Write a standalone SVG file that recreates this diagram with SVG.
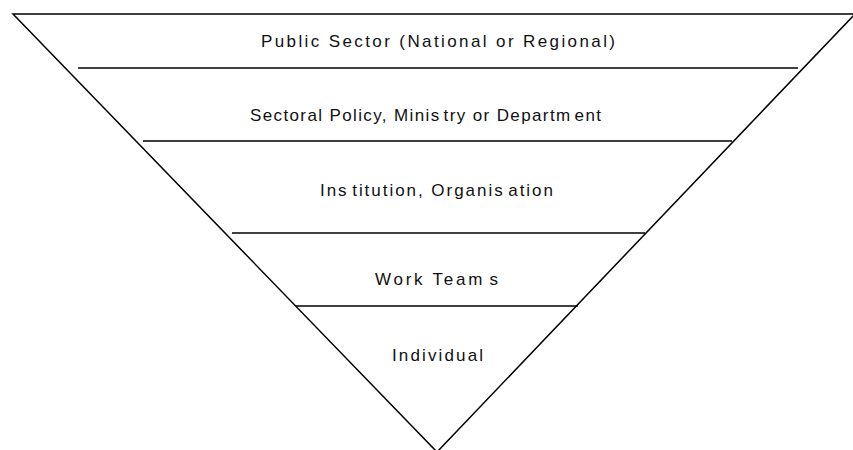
<svg xmlns="http://www.w3.org/2000/svg" width="853" height="450" viewBox="0 0 853 450">
<style>
.edge{stroke:#000;stroke-width:1.5;fill:none}
.lbl{font-family:"Liberation Sans",Arial,sans-serif;font-size:17px;fill:#111}
.gap{font-size:6px}
</style>
<rect width="853" height="450" fill="#fff"/>
<g id="connectors">
<polygon class="edge" points="13,14 855,14 437,452"/>
<line class="edge" x1="78" y1="68" x2="798" y2="68"/>
<line class="edge" x1="143" y1="141" x2="732" y2="141"/>
<line class="edge" x1="232" y1="233" x2="645" y2="233"/>
<line class="edge" x1="296" y1="306" x2="578" y2="306"/>
</g>
<g id="level-public"><text class="lbl" x="261" y="47" textLength="354" lengthAdjust="spacing">Public Sector (National or Regional)</text></g>
<g id="level-sectoral"><text class="lbl" x="250" y="121" textLength="351" lengthAdjust="spacing">Sectoral Policy, Minis<tspan class="gap"> </tspan>try or Departm<tspan class="gap"> </tspan>ent</text></g>
<g id="level-institution"><text class="lbl" x="320" y="196" textLength="233" lengthAdjust="spacing">Ins<tspan class="gap"> </tspan>titution, Organis<tspan class="gap"> </tspan>ation</text></g>
<g id="level-teams"><text class="lbl" x="375" y="285" textLength="123" lengthAdjust="spacing">Work Team<tspan class="gap"> </tspan>s</text></g>
<g id="level-individual"><text class="lbl" x="392" y="361" textLength="91" lengthAdjust="spacing">Individual</text></g>
</svg>
